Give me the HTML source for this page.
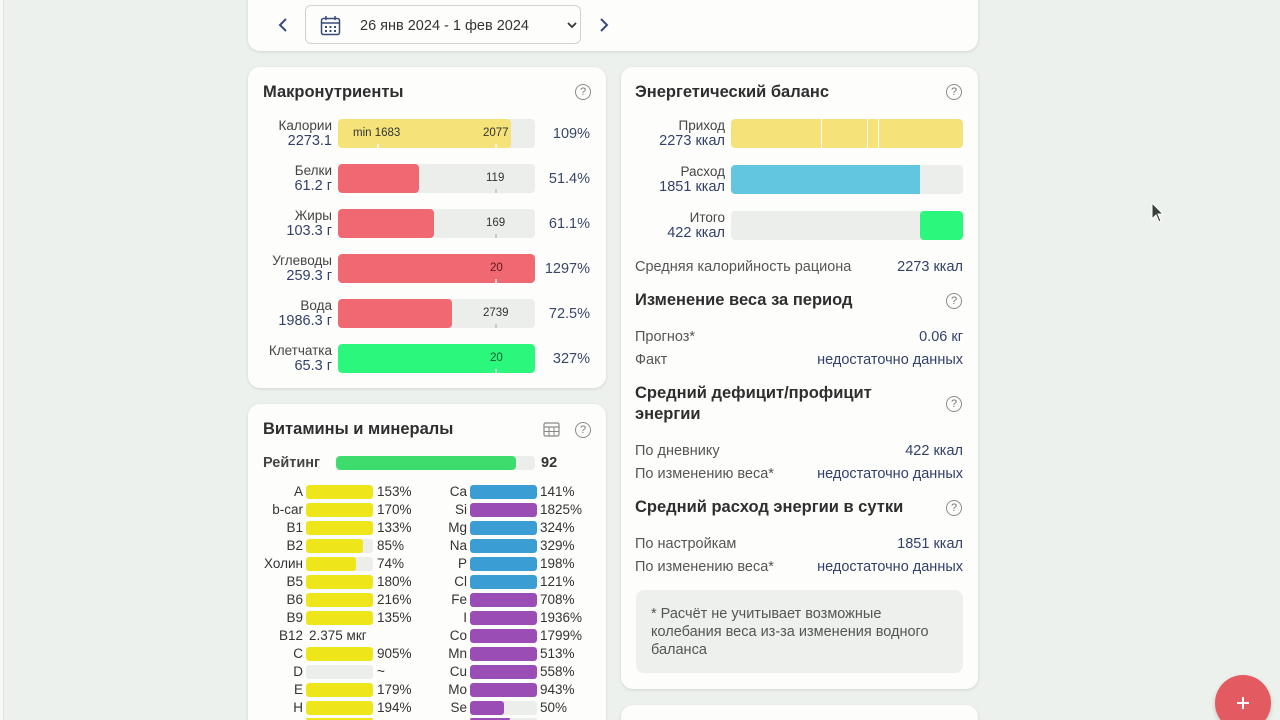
<!DOCTYPE html>
<html><head><meta charset="utf-8"><style>
*{margin:0;padding:0;box-sizing:border-box}
html{width:1280px;height:720px;overflow:hidden}
body{width:1280px;height:720px;overflow:hidden;background:#edf1ed;font-family:"Liberation Sans","DejaVu Sans",sans-serif;position:relative;color:#333}
#wrap{position:absolute;left:0;top:0;width:1280px;height:720px;overflow:hidden}
.abs{position:absolute}
.card{position:absolute;background:#fdfefc;border-radius:12px;box-shadow:0 1px 3px rgba(0,0,0,0.12)}
.h{position:absolute;font-size:16.5px;font-weight:bold;color:#2e2e2e;line-height:20px;white-space:nowrap}
.help{position:absolute;width:16px;height:16px;border:1px solid #8a8a8a;border-radius:50%;font-size:11px;line-height:14px;text-align:center;color:#777}
.t{position:absolute;white-space:nowrap;line-height:16px}
.nm{font-size:13.5px;color:#444;text-align:right}
.vl{font-size:14.5px;color:#33416a;text-align:right}
.pc{font-size:14.5px;color:#3a4668;text-align:right}
.track{position:absolute;background:#eceeec;border-radius:4px;overflow:hidden}
.fill{position:absolute;left:0;top:0;bottom:0;border-radius:4px}
.bl{position:absolute;font-size:11.5px;color:#333;line-height:14px}
.notch{position:absolute;width:2px;height:4px;bottom:0;background:rgba(255,255,255,0.6)}
.vt{position:absolute;background:#eceeec;border-radius:3px;overflow:hidden;height:14px;width:67px}
.vf{position:absolute;left:0;top:0;bottom:0;border-radius:3px}
.vn{position:absolute;font-size:13.5px;color:#333;text-align:right;width:60px;line-height:16px}
.vp{position:absolute;font-size:13.5px;color:#333;line-height:16px}
.row{position:absolute;font-size:14.5px;line-height:18px;white-space:nowrap}
.lft{color:#555}
.rgt{color:#33416a;text-align:right}
</style></head><body><div id="wrap">

<div class="abs" style="left:0;top:0;width:3px;height:720px;background:#f7f8f7"></div>
<div class="abs" style="left:3px;top:0;width:1px;height:720px;background:#e0e4e0"></div>

<!-- top card -->
<div class="card" style="left:248px;top:-12px;width:730px;height:63px"></div>
<svg class="abs" style="left:277px;top:17px" width="12" height="16"><polyline points="9,2 3,8 9,14" fill="none" stroke="#3a4a78" stroke-width="2"/></svg>
<svg class="abs" style="left:598px;top:17px" width="12" height="16"><polyline points="3,2 9,8 3,14" fill="none" stroke="#3a4a78" stroke-width="2"/></svg>
<div class="abs" style="left:305px;top:5px;width:276px;height:39px;border:1px solid #cfd3cf;border-radius:6px;background:#fdfefc"></div>
<svg class="abs" style="left:320px;top:15px" width="21" height="21" viewBox="0 0 21 21"><rect x="1.5" y="3.5" width="18" height="16" rx="2" fill="none" stroke="#3a4a78" stroke-width="1.5"/><line x1="1.5" y1="8" x2="19.5" y2="8" stroke="#3a4a78" stroke-width="1.5"/><line x1="6" y1="1" x2="6" y2="5" stroke="#3a4a78" stroke-width="1.5"/><line x1="15" y1="1" x2="15" y2="5" stroke="#3a4a78" stroke-width="1.5"/><g fill="#3a4a78"><rect x="5" y="11" width="2" height="2"/><rect x="9.5" y="11" width="2" height="2"/><rect x="14" y="11" width="2" height="2"/><rect x="5" y="15" width="2" height="2"/><rect x="9.5" y="15" width="2" height="2"/><rect x="14" y="15" width="2" height="2"/></g></svg>
<div class="t" style="left:360px;top:18px;font-size:14.5px;color:#333">26 янв 2024 - 1 фев 2024</div>
<svg class="abs" style="left:567px;top:21px" width="10" height="8"><polyline points="1,2 5,6 9,2" fill="none" stroke="#333" stroke-width="1.8"/></svg>

<!-- Macronutrients card -->
<div class="card" style="left:248px;top:67px;width:358px;height:321px"></div>
<div class="h" style="left:263px;top:82px">Макронутриенты</div>
<div class="help" style="left:575px;top:84px">?</div>

<div class="t nm" style="right:948px;top:118px">Калории</div>
<div class="t vl" style="right:948px;top:133px">2273.1</div>
<div class="track" style="left:338px;top:119px;width:197px;height:29px"><div class="fill" style="width:173px;background:#f5e279"></div><div class="notch" style="left:39px;background:rgba(255,255,255,0.7)"></div><div class="notch" style="left:157px;background:rgba(255,255,255,0.7)"></div><div class="bl" style="left:15px;top:7px">min 1683</div><div class="bl" style="left:145px;top:7px">2077</div></div>
<div class="t pc" style="right:690px;top:126px">109%</div>

<div class="t nm" style="right:948px;top:163px">Белки</div>
<div class="t vl" style="right:948px;top:178px">61.2 г</div>
<div class="track" style="left:338px;top:164px;width:197px;height:29px"><div class="fill" style="width:81px;background:#f06872"></div><div class="notch" style="left:157px;background:#c8ccc8"></div><div class="bl" style="left:148px;top:7px">119</div></div>
<div class="t pc" style="right:690px;top:171px">51.4%</div>

<div class="t nm" style="right:948px;top:208px">Жиры</div>
<div class="t vl" style="right:948px;top:223px">103.3 г</div>
<div class="track" style="left:338px;top:209px;width:197px;height:29px"><div class="fill" style="width:96px;background:#f06872"></div><div class="notch" style="left:157px;background:#c8ccc8"></div><div class="bl" style="left:148px;top:7px">169</div></div>
<div class="t pc" style="right:690px;top:216px">61.1%</div>

<div class="t nm" style="right:948px;top:253px">Углеводы</div>
<div class="t vl" style="right:948px;top:268px">259.3 г</div>
<div class="track" style="left:338px;top:254px;width:197px;height:29px"><div class="fill" style="width:197px;background:#f06872"></div><div class="notch" style="left:157px;background:rgba(255,255,255,0.7)"></div><div class="bl" style="left:152px;top:7px;color:#5a1a1e">20</div></div>
<div class="t pc" style="right:690px;top:261px">1297%</div>

<div class="t nm" style="right:948px;top:298px">Вода</div>
<div class="t vl" style="right:948px;top:313px">1986.3 г</div>
<div class="track" style="left:338px;top:299px;width:197px;height:29px"><div class="fill" style="width:114px;background:#f06872"></div><div class="notch" style="left:157px;background:#c8ccc8"></div><div class="bl" style="left:145px;top:7px">2739</div></div>
<div class="t pc" style="right:690px;top:306px">72.5%</div>

<div class="t nm" style="right:948px;top:343px">Клетчатка</div>
<div class="t vl" style="right:948px;top:358px">65.3 г</div>
<div class="track" style="left:338px;top:344px;width:197px;height:29px"><div class="fill" style="width:197px;background:#2af77b"></div><div class="notch" style="left:157px;background:rgba(255,255,255,0.7)"></div><div class="bl" style="left:152px;top:7px;color:#1a5a30">20</div></div>
<div class="t pc" style="right:690px;top:351px">327%</div>

<!-- Vitamins card -->
<div class="card" style="left:248px;top:404px;width:358px;height:330px"></div>
<div class="h" style="left:263px;top:419px">Витамины и минералы</div>
<svg class="abs" style="left:543px;top:422px" width="17" height="15" viewBox="0 0 17 15"><rect x="1" y="1" width="15" height="13" rx="1.5" fill="none" stroke="#888" stroke-width="1.2"/><line x1="1" y1="5" x2="16" y2="5" stroke="#888" stroke-width="1.2"/><line x1="1" y1="9.5" x2="16" y2="9.5" stroke="#888" stroke-width="1"/><line x1="6" y1="5" x2="6" y2="14" stroke="#888" stroke-width="1"/><line x1="11" y1="5" x2="11" y2="14" stroke="#888" stroke-width="1"/></svg>
<div class="help" style="left:575px;top:422px">?</div>
<div class="t" style="left:263px;top:455px;font-size:14.5px;font-weight:bold;color:#444">Рейтинг</div>
<div class="abs" style="left:336px;top:456px;width:199px;height:14px;background:#eceeec;border-radius:4px;overflow:hidden"><div class="abs" style="left:0;top:0;width:180px;height:14px;background:#3ddc6c;border-radius:4px"></div></div>
<div class="t" style="left:541px;top:455px;font-size:14.5px;font-weight:bold;color:#333">92</div>

<!-- Energy card -->
<div class="card" style="left:621px;top:67px;width:357px;height:622px"></div>
<div class="h" style="left:635px;top:82px">Энергетический баланс</div>
<div class="help" style="left:946px;top:84px">?</div>

<div class="t nm" style="right:555px;top:118px">Приход</div>
<div class="t vl" style="right:555px;top:133px">2273 ккал</div>
<div class="track" style="left:731px;top:119px;width:232px;height:29px"><div class="fill" style="width:232px;background:#f5e279"></div><div class="abs" style="left:90px;top:0;width:1px;height:29px;background:#fff"></div><div class="abs" style="left:136px;top:0;width:1px;height:29px;background:#fff"></div><div class="abs" style="left:147px;top:0;width:1px;height:29px;background:#fff"></div></div>

<div class="t nm" style="right:555px;top:164px">Расход</div>
<div class="t vl" style="right:555px;top:179px">1851 ккал</div>
<div class="track" style="left:731px;top:165px;width:232px;height:29px"><div class="fill" style="width:189px;background:#62c6e1;border-radius:4px 0 0 4px"></div></div>

<div class="t nm" style="right:555px;top:210px">Итого</div>
<div class="t vl" style="right:555px;top:225px">422 ккал</div>
<div class="track" style="left:731px;top:211px;width:232px;height:29px"><div class="abs" style="left:189px;top:0;width:43px;height:29px;background:#2af77b;border-radius:4px"></div></div>

<div class="row lft" style="left:635px;top:258px">Средняя калорийность рациона</div>
<div class="row rgt" style="right:317px;top:258px">2273 ккал</div>

<div class="h" style="left:635px;top:290px">Изменение веса за период</div>
<div class="help" style="left:946px;top:293px">?</div>
<div class="row lft" style="left:635px;top:328px">Прогноз*</div>
<div class="row rgt" style="right:317px;top:328px">0.06 кг</div>
<div class="row lft" style="left:635px;top:351px">Факт</div>
<div class="row rgt" style="right:317px;top:351px">недостаточно данных</div>

<div class="h" style="left:635px;top:383px;line-height:21px">Средний дефицит/профицит<br>энергии</div>
<div class="help" style="left:946px;top:396px">?</div>
<div class="row lft" style="left:635px;top:442px">По дневнику</div>
<div class="row rgt" style="right:317px;top:442px">422 ккал</div>
<div class="row lft" style="left:635px;top:465px">По изменению веса*</div>
<div class="row rgt" style="right:317px;top:465px">недостаточно данных</div>

<div class="h" style="left:635px;top:497px">Средний расход энергии в сутки</div>
<div class="help" style="left:946px;top:500px">?</div>
<div class="row lft" style="left:635px;top:535px">По настройкам</div>
<div class="row rgt" style="right:317px;top:535px">1851 ккал</div>
<div class="row lft" style="left:635px;top:558px">По изменению веса*</div>
<div class="row rgt" style="right:317px;top:558px">недостаточно данных</div>

<div class="abs" style="left:636px;top:590px;width:327px;height:83px;background:#edf0ec;border-radius:8px"></div>
<div class="abs" style="left:651px;top:605px;font-size:14.5px;line-height:18px;color:#555;white-space:nowrap">* Расчёт не учитывает возможные<br>колебания веса из-за изменения водного<br>баланса</div>

<!-- next card -->
<div class="card" style="left:621px;top:705px;width:357px;height:30px"></div>

<!-- FAB -->
<div class="abs" style="left:1215px;top:675px;width:56px;height:56px;border-radius:50%;background:#e35a61;box-shadow:0 2px 4px rgba(0,0,0,0.2)"></div>
<div class="abs" style="left:1237px;top:702px;width:12px;height:2px;background:#fff"></div>
<div class="abs" style="left:1242px;top:697px;width:2px;height:12px;background:#fff"></div>

<!-- cursor -->
<svg class="abs" style="left:1151px;top:202px" width="14" height="22" viewBox="0 0 14 22"><path d="M1,1 L1,17 L5,13 L8,20 L10,19 L7,12 L12,12 Z" fill="#3a3f3a" stroke="#fff" stroke-width="1"/></svg>

<!-- vitamin rows -->
<div class="vn" style="left:243px;top:484px">A</div><div class="vt" style="left:306px;top:485px"><div class="vf" style="width:67px;background:#eee51b"></div></div><div class="vp" style="left:377px;top:484px">153%</div>
<div class="vn" style="left:243px;top:502px">b-car</div><div class="vt" style="left:306px;top:503px"><div class="vf" style="width:67px;background:#eee51b"></div></div><div class="vp" style="left:377px;top:502px">170%</div>
<div class="vn" style="left:243px;top:520px">B1</div><div class="vt" style="left:306px;top:521px"><div class="vf" style="width:67px;background:#eee51b"></div></div><div class="vp" style="left:377px;top:520px">133%</div>
<div class="vn" style="left:243px;top:538px">B2</div><div class="vt" style="left:306px;top:539px"><div class="vf" style="width:57px;background:#eee51b"></div></div><div class="vp" style="left:377px;top:538px">85%</div>
<div class="vn" style="left:243px;top:556px">Холин</div><div class="vt" style="left:306px;top:557px"><div class="vf" style="width:50px;background:#eee51b"></div></div><div class="vp" style="left:377px;top:556px">74%</div>
<div class="vn" style="left:243px;top:574px">B5</div><div class="vt" style="left:306px;top:575px"><div class="vf" style="width:67px;background:#eee51b"></div></div><div class="vp" style="left:377px;top:574px">180%</div>
<div class="vn" style="left:243px;top:592px">B6</div><div class="vt" style="left:306px;top:593px"><div class="vf" style="width:67px;background:#eee51b"></div></div><div class="vp" style="left:377px;top:592px">216%</div>
<div class="vn" style="left:243px;top:610px">B9</div><div class="vt" style="left:306px;top:611px"><div class="vf" style="width:67px;background:#eee51b"></div></div><div class="vp" style="left:377px;top:610px">135%</div>
<div class="vn" style="left:243px;top:628px">B12</div><div class="vp" style="left:309px;top:628px">2.375 мкг</div>
<div class="vn" style="left:243px;top:646px">C</div><div class="vt" style="left:306px;top:647px"><div class="vf" style="width:67px;background:#eee51b"></div></div><div class="vp" style="left:377px;top:646px">905%</div>
<div class="vn" style="left:243px;top:664px">D</div><div class="vt" style="left:306px;top:665px"></div><div class="vp" style="left:377px;top:664px">~</div>
<div class="vn" style="left:243px;top:682px">E</div><div class="vt" style="left:306px;top:683px"><div class="vf" style="width:67px;background:#eee51b"></div></div><div class="vp" style="left:377px;top:682px">179%</div>
<div class="vn" style="left:243px;top:700px">H</div><div class="vt" style="left:306px;top:701px"><div class="vf" style="width:67px;background:#eee51b"></div></div><div class="vp" style="left:377px;top:700px">194%</div>
<div class="vt" style="left:306px;top:718px;height:2px"><div class="vf" style="width:67px;background:#eee51b"></div></div>

<div class="vn" style="left:407px;top:484px">Ca</div><div class="vt" style="left:470px;top:485px"><div class="vf" style="width:67px;background:#3a9ed5"></div></div><div class="vp" style="left:540px;top:484px">141%</div>
<div class="vn" style="left:407px;top:502px">Si</div><div class="vt" style="left:470px;top:503px"><div class="vf" style="width:67px;background:#9a4eb5"></div></div><div class="vp" style="left:540px;top:502px">1825%</div>
<div class="vn" style="left:407px;top:520px">Mg</div><div class="vt" style="left:470px;top:521px"><div class="vf" style="width:67px;background:#3a9ed5"></div></div><div class="vp" style="left:540px;top:520px">324%</div>
<div class="vn" style="left:407px;top:538px">Na</div><div class="vt" style="left:470px;top:539px"><div class="vf" style="width:67px;background:#3a9ed5"></div></div><div class="vp" style="left:540px;top:538px">329%</div>
<div class="vn" style="left:407px;top:556px">P</div><div class="vt" style="left:470px;top:557px"><div class="vf" style="width:67px;background:#3a9ed5"></div></div><div class="vp" style="left:540px;top:556px">198%</div>
<div class="vn" style="left:407px;top:574px">Cl</div><div class="vt" style="left:470px;top:575px"><div class="vf" style="width:67px;background:#3a9ed5"></div></div><div class="vp" style="left:540px;top:574px">121%</div>
<div class="vn" style="left:407px;top:592px">Fe</div><div class="vt" style="left:470px;top:593px"><div class="vf" style="width:67px;background:#9a4eb5"></div></div><div class="vp" style="left:540px;top:592px">708%</div>
<div class="vn" style="left:407px;top:610px">I</div><div class="vt" style="left:470px;top:611px"><div class="vf" style="width:67px;background:#9a4eb5"></div></div><div class="vp" style="left:540px;top:610px">1936%</div>
<div class="vn" style="left:407px;top:628px">Co</div><div class="vt" style="left:470px;top:629px"><div class="vf" style="width:67px;background:#9a4eb5"></div></div><div class="vp" style="left:540px;top:628px">1799%</div>
<div class="vn" style="left:407px;top:646px">Mn</div><div class="vt" style="left:470px;top:647px"><div class="vf" style="width:67px;background:#9a4eb5"></div></div><div class="vp" style="left:540px;top:646px">513%</div>
<div class="vn" style="left:407px;top:664px">Cu</div><div class="vt" style="left:470px;top:665px"><div class="vf" style="width:67px;background:#9a4eb5"></div></div><div class="vp" style="left:540px;top:664px">558%</div>
<div class="vn" style="left:407px;top:682px">Mo</div><div class="vt" style="left:470px;top:683px"><div class="vf" style="width:67px;background:#9a4eb5"></div></div><div class="vp" style="left:540px;top:682px">943%</div>
<div class="vn" style="left:407px;top:700px">Se</div><div class="vt" style="left:470px;top:701px"><div class="vf" style="width:34px;background:#9a4eb5"></div></div><div class="vp" style="left:540px;top:700px">50%</div>
<div class="vt" style="left:470px;top:718px;height:2px"><div class="vf" style="width:40px;background:#9a4eb5"></div></div>

</div></body></html>
